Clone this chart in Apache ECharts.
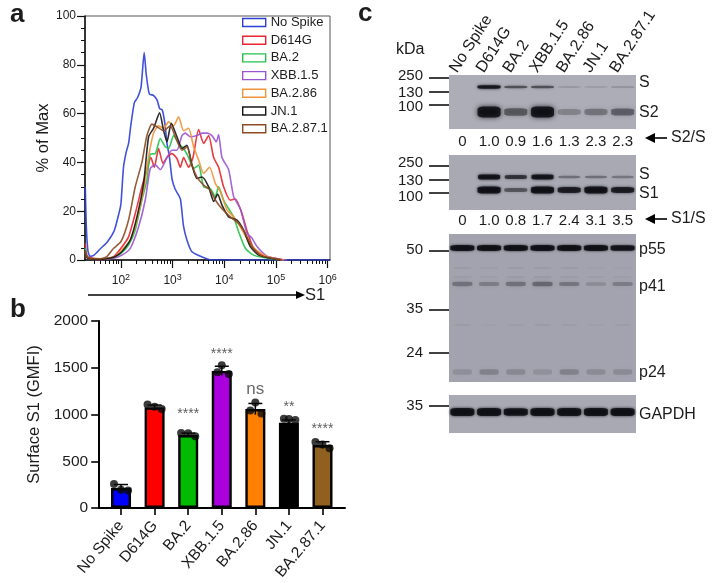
<!DOCTYPE html>
<html><head><meta charset="utf-8">
<style>html,body{margin:0;padding:0;background:#fff}#c{width:719px;height:583px}</style>
<script src="https://cdn.jsdelivr.net/npm/echarts@6/dist/echarts.min.js"></script>
</head><body><div id="c"></div>
<script>
// ---------- panel a: flow histograms, [log10 S1, % of max]
const variants = ['No Spike','D614G','BA.2','XBB.1.5','BA.2.86','JN.1','BA.2.87.1'];
const histNoSpike = [[1.31,30],[1.33,14],[1.36,4],[1.40,1.5],[1.48,2],[1.61,4.8],[1.74,7.5],[1.87,12],[1.96,19],[2.0,23],[2.05,38],[2.10,44],[2.15,48],[2.19,55],[2.26,64.5],[2.32,66.5],[2.39,71],[2.45,85],[2.49,76],[2.55,68],[2.63,67.5],[2.70,65.5],[2.75,62],[2.80,61.5],[2.85,56],[2.89,48],[2.94,42],[2.99,33],[3.05,29],[3.15,25],[3.21,14],[3.28,8],[3.37,3.5],[3.55,1.4],[3.75,0],[6.04,0]];
const histD614G = [[1.31,6.8],[1.355,1.4],[1.6,0.3],[1.858,1.4],[2.0,4.8],[2.148,9.5],[2.277,19],[2.406,30],[2.503,37],[2.58,42],[2.645,38],[2.729,45.7],[2.813,39.6],[2.89,42],[2.987,43.6],[3.084,41.6],[3.148,38],[3.213,42],[3.31,38],[3.394,42],[3.503,53.5],[3.6,47.8],[3.697,51],[3.794,42],[3.89,38],[3.987,30],[4.116,24.5],[4.213,25],[4.342,19],[4.439,12],[4.568,4.8],[4.761,1.6],[4.987,0.7],[5.148,0]];
const histBA2 = [[1.31,5],[1.355,1],[1.6,0.3],[1.858,1.1],[2.0,2.7],[2.148,6.1],[2.277,12.3],[2.406,24.6],[2.503,32.7],[2.568,43.4],[2.665,43.6],[2.761,49.8],[2.858,46.4],[2.923,45.7],[3.019,51],[3.116,47.8],[3.213,45.7],[3.31,42],[3.406,37.5],[3.503,38.9],[3.6,30],[3.729,29.3],[3.826,26],[3.89,30],[3.987,24.5],[4.084,21],[4.181,17.7],[4.277,11.6],[4.406,4.8],[4.568,2],[4.761,1],[5.019,0]];
const histXBB = [[1.31,3],[1.355,0.8],[1.6,0.2],[1.858,0.7],[2.019,2],[2.181,4.8],[2.342,13.6],[2.471,24.6],[2.568,37.5],[2.665,39],[2.761,37],[2.89,42],[2.987,45],[3.084,45],[3.181,51],[3.245,52],[3.342,50.5],[3.471,51],[3.568,52],[3.665,52],[3.761,51],[3.845,48.4],[3.89,51.4],[3.955,42],[4.084,37],[4.181,26],[4.31,21],[4.439,11],[4.535,9],[4.632,5.5],[4.826,1.6],[5.084,0.3],[5.213,0]];
const histBA286 = [[1.31,3],[1.355,0.8],[1.6,0.2],[1.858,1.1],[2.019,4.1],[2.181,8.2],[2.31,16.4],[2.439,28.6],[2.535,42.3],[2.632,52],[2.729,55],[2.826,54],[2.923,56.6],[3.019,55],[3.116,58.7],[3.213,53],[3.31,54],[3.406,46.4],[3.503,41],[3.6,35.5],[3.716,38],[3.826,31.4],[3.923,28],[4.052,20.5],[4.181,17.7],[4.31,13.6],[4.471,7.5],[4.632,3.8],[4.826,1.4],[5.019,0.3],[5.148,0]];
const histJN1 = [[1.31,3],[1.355,0.8],[1.6,0.2],[1.858,1.1],[2.019,3.4],[2.181,8.2],[2.31,17.7],[2.439,31.4],[2.535,50.5],[2.632,54],[2.748,60.3],[2.826,53],[2.89,48.4],[2.974,56],[3.084,50.5],[3.181,45.7],[3.277,47],[3.374,39],[3.471,33.4],[3.568,34],[3.697,30],[3.794,24],[3.871,27],[3.955,22.5],[4.084,17.7],[4.245,16.4],[4.374,12.3],[4.503,5.5],[4.665,2],[4.89,0.7],[5.084,0]];
const histBA2871 = [[1.31,4],[1.355,1],[1.6,0.5],[1.729,1.4],[1.858,4.8],[2.0,7.5],[2.148,16.4],[2.277,30],[2.406,40],[2.503,51],[2.6,55.7],[2.697,54.6],[2.826,53],[2.955,55],[3.052,50.5],[3.181,45],[3.277,46.4],[3.374,39],[3.471,34],[3.6,30.7],[3.729,28.6],[3.826,24.6],[3.955,21],[4.116,17.7],[4.277,15],[4.406,10.9],[4.535,5.5],[4.697,2],[4.923,0.7],[5.116,0]];
const histSeries = [histNoSpike,histD614G,histBA2,histXBB,histBA286,histJN1,histBA2871];
const histColors = ['#2b3fd6','#e8252e','#24c24a','#9b55d2','#f0943a','#161616','#8c4a22'];
const histExponents = [2,3,4,5,6];
const histMinorTicks = [1.477,1.602,1.699,1.778,1.845,1.903,1.954,2.301,2.477,2.602,2.699,2.778,2.845,2.903,2.954,3.301,3.477,3.602,3.699,3.778,3.845,3.903,3.954,4.301,4.477,4.602,4.699,4.778,4.845,4.903,4.954,5.301,5.477,5.602,5.699,5.778,5.845,5.903,5.954];

// ---------- panel b: surface S1 bars
const gmfiMean = [213,1076,781,1466,1058,912,674];
const gmfiSD = [38,25,20,50,60,30,35];
const gmfiPoints = [[256,195,188],[1108,1083,1058],[802,799,767],[1452,1527,1434],[1044,1129,1012],[955,952,941],[706,678,639]];
const gmfiJitter = [-0.21,0,0.21];
const gmfiJitterPeak = {3:[-0.13,0,0.21],4:[-0.15,0,0.18],5:[-0.15,0,0.19]};
const barColors = ['#0000ff','#ff0000','#00bb00','#aa00dd','#ff8000','#000000','#8f6020'];
const sigText = ['','','****','****','ns','**','****'];
const sigLevel = [null,null,1000,1650,1270,1075,840];

// ---------- panel c: blots; band intensity per lane (0..1)
const ratioS2 = ['0','1.0','0.9','1.6','1.3','2.3','2.3'];
const ratioS1 = ['0','1.0','0.8','1.7','2.4','3.1','3.5'];
const blot1S  = [0,0.95,0.55,0.55,0.17,0.14,0.2];
const blot1S2 = [0,1,0.5,1,0.26,0.34,0.46];
const blot2S  = [0,1,0.7,0.95,0.36,0.36,0.32];
const blot2S1 = [0,1,0.5,1,0.85,1,0.85];
const blot3p55 = [0.95,0.95,0.95,0.95,0.95,0.95,0.9];
const blot3p41 = [0.32,0.26,0.32,0.38,0.3,0.16,0.26];
const blot3p24 = [0.14,0.22,0.18,0.12,0.22,0.16,0.16];
const blot3f1  = [0.05,0.04,0.05,0.05,0.05,0.02,0.02];
const blot3f2  = [0.05,0.04,0.06,0.06,0.05,0.04,0.04];
const blot3f3  = [0.05,0.02,0.04,0.05,0.04,0.02,0.04];
const gapdh   = [1,1,0.95,1,1,1,1];

const axisFont = 'Liberation Sans';
const C = '#1c1c1c';
const chart = echarts.init(document.getElementById('c'), null, {renderer:'canvas'});

function band(series, xIdx, yIdx, pos, widthPx, baseH, extraH, blur){
  return {type:'scatter', xAxisIndex:xIdx, yAxisIndex:yIdx, silent:true, z:3,
    data: series.map((v,i)=>({value:[i,pos], symbol:'roundRect',
      symbolSize:[widthPx, Math.max(0.1, baseH+extraH*v)],
      itemStyle:{color:'rgba(8,8,14,'+Math.min(1,v*1.1)+')', shadowBlur:blur, shadowColor:'rgba(8,8,14,'+Math.min(1,v)+')'}}))
      .filter(d=>series[d.value[0]]>0)};
}

const blotGrids = [
  {left:449,top:75,width:187,height:54},
  {left:449,top:155,width:187,height:55},
  {left:449,top:234,width:187,height:148},
  {left:449,top:395,width:187,height:38}
];
const blotBg = ['#adadb7','#a9a9b4','#a3a3af','#a9a9b3'];

function blotX(g, data, show){
  return {gridIndex:g, type:'category', data:data, position:'bottom',
    axisLine:{show:false}, axisTick:{show:false}, splitLine:{show:false},
    axisLabel:{show:show, interval:0, margin:g===3?3:5, fontFamily:axisFont, fontSize:15, color:C}};
}
function blotY(g, max, tickAt, labelAt, labels){
  return {gridIndex:g, type:'value', min:0, max:max, inverse:true, position:'left',
    splitLine:{show:false}, axisLine:{show:false},
    axisTick:{show:true, customValues:tickAt, length:20, inside:false, lineStyle:{color:'#111',width:1.6}},
    axisLabel:{show:true, customValues:labelAt, margin:26, hideOverlap:false, showMinLabel:true,
      fontFamily:axisFont, fontSize:15, color:C, formatter:(v,i)=>labels[labelAt.indexOf(v)]||''}};
}
function blotYR(g, max, labelAt, labels){
  return {gridIndex:g, type:'value', min:0, max:max, inverse:true, position:'right',
    splitLine:{show:false}, axisLine:{show:false}, axisTick:{show:false},
    axisLabel:{show:true, customValues:labelAt, margin:3, showMinLabel:true, showMaxLabel:true, fontFamily:axisFont, fontSize:16, color:C,
      formatter:(v,i)=>labels[labelAt.indexOf(v)]}};
}

const xAxes = [
  {gridIndex:0, type:'value', min:1.305, max:6.045, position:'bottom',
   axisLine:{onZero:false, lineStyle:{color:'#111',width:1.5}},
   splitLine:{show:false}, minorTick:{show:false},
   axisTick:{customValues:histExponents, length:8, lineStyle:{color:'#111',width:1.2}},
   axisLabel:{customValues:histExponents, margin:13, color:C, fontFamily:axisFont,
     formatter:v=>'{b|10}{s|'+v+'}', rich:{b:{fontSize:12,fontFamily:axisFont,color:C},s:{fontSize:9,fontFamily:axisFont,color:C,padding:[0,0,7,0]}}}},
  {gridIndex:0, type:'value', min:1.305, max:6.045, position:'bottom',
   axisLine:{show:false}, splitLine:{show:false}, axisLabel:{show:false},
   axisTick:{customValues:histMinorTicks, length:4, lineStyle:{color:'#111',width:1}}},
  {gridIndex:1, type:'value', min:-0.65, max:6.67, position:'bottom',
   axisLine:{onZero:false, lineStyle:{color:'#000',width:2}}, splitLine:{show:false},
   axisTick:{customValues:[0,1,2,3,4,5,6], length:7, lineStyle:{color:'#000',width:1.6}},
   axisLabel:{customValues:[0,1,2,3,4,5,6], rotate:50, margin:15, fontFamily:axisFont, fontSize:15.5, color:C,
     formatter:v=>variants[v]}},
  blotX(2, ratioS2, true),
  blotX(3, ratioS1, true),
  blotX(4, variants, false),
  blotX(5, variants, false),
  // lane names over the first blot: own transparent grid, nudged left of the lanes
  {gridIndex:6, type:'category', data:variants, position:'top',
    axisLine:{show:false}, axisTick:{show:false}, splitLine:{show:false},
    axisLabel:{show:true, interval:0, rotate:57, margin:4, hideOverlap:false, fontFamily:axisFont, fontSize:16, color:C}}
];
const yAxes = [
  {gridIndex:0, type:'value', min:0, max:100, interval:20, position:'left',
   splitLine:{show:false},
   axisLine:{show:true, onZero:false, lineStyle:{color:'#111',width:1.5}},
   axisTick:{show:true, length:8, lineStyle:{color:'#111',width:1.2}},
   minorTick:{show:true, splitNumber:4, length:4, lineStyle:{color:'#111',width:1}},
   axisLabel:{fontFamily:axisFont, fontSize:12, color:C, margin:9},
   name:'% of Max', nameLocation:'middle', nameGap:33, nameTextStyle:{fontFamily:axisFont, fontSize:16.5, color:C}},
  {gridIndex:1, type:'value', min:0, max:2000, interval:500, position:'left',
   splitLine:{show:false},
   axisLine:{show:true, onZero:false, lineStyle:{color:'#000',width:2}},
   axisTick:{show:true, length:8, lineStyle:{color:'#000',width:1.6}},
   axisLabel:{fontFamily:axisFont, fontSize:15.5, color:C, margin:11, formatter:v=>String(v)},
   name:'Surface S1 (GMFI)', nameLocation:'middle', nameGap:56, nameTextStyle:{fontFamily:axisFont, fontSize:16.5, color:C}},
  blotY(2,54,[3,17,30],[1,18,32,54],['250','130','100']),
  blotYR(2,54,[8,38],['S','S2']),
  blotY(3,55,[11,25,38],[8,26,42,55],['250','130','100']),
  blotYR(3,55,[20,39],['S','S1']),
  blotY(4,148,[17,76,119],[16,75,119,148],['50','35','24']),
  blotYR(4,148,[16,53,139],['p55','p41','p24']),
  blotY(5,38,[11],[11,38],['35']),
  blotYR(5,38,[20],['GAPDH']),
  {gridIndex:6, type:'value', show:false, min:0, max:1}
];

const series = [];
// panel a
histSeries.forEach((h,i)=>series.push({type:'line', name:variants[i], xAxisIndex:0, yAxisIndex:0, data:h,
  showSymbol:false, smooth:0.2, clip:true, itemStyle:{color:histColors[i]}, lineStyle:{color:histColors[i],width:1.6,opacity:0.9}, z:2+i}));
// panel b
series.push({type:'bar', xAxisIndex:2, yAxisIndex:1, barWidth:20, silent:true, z:3,
  data:gmfiMean.map((v,i)=>({value:[i,v], itemStyle:{color:barColors[i], borderColor:'#000', borderWidth:2.4}}))});
series.push({type:'custom', xAxisIndex:2, yAxisIndex:1, silent:true, z:4,
  data:gmfiMean.map((v,i)=>[i,v-gmfiSD[i],v+gmfiSD[i]]),
  renderItem:(p,api)=>{
    const a=api.coord([api.value(0),api.value(1)]), b=api.coord([api.value(0),api.value(2)]);
    const st={stroke:'#000',lineWidth:1.5,fill:null};
    return {type:'group',children:[
      {type:'line',shape:{x1:a[0],y1:a[1],x2:b[0],y2:b[1]},style:st},
      {type:'line',shape:{x1:a[0]-7,y1:b[1],x2:a[0]+7,y2:b[1]},style:st}]};
  }});
series.push({type:'scatter', xAxisIndex:2, yAxisIndex:1, symbolSize:8, silent:true, z:5,
  itemStyle:{color:'#0a0a0a'},
  data:gmfiPoints.flatMap((pts,i)=>pts.map((v,k)=>[i+(gmfiJitterPeak[i]||gmfiJitter)[k],v]))});
sigText.forEach((t,i)=>{ if(!t) return;
  series.push({type:'scatter', xAxisIndex:2, yAxisIndex:1, symbolSize:1, silent:true, z:5,
    itemStyle:{color:'transparent'},
    label:{show:true, position:'inside', formatter:t, fontFamily:axisFont,
      color:t==='ns'?'#444':'#333', fontSize:t==='ns'?17:14},
    data:[[i,sigLevel[i]]]});
});
// panel c
series.push(band(blot1S,3,2,12,23,1,2.5,3));
series.push(band(blot1S2,3,2,37,23,4,7,5));
series.push(band(blot2S,4,4,22,22,1,4,3));
series.push(band(blot2S1,4,4,35,23,1,6,3));
series.push(band(blot3p55,5,6,14,24,2,4,2.5));
series.push(band(blot3p41,5,6,50,20,3,4,5));
series.push(band(blot3p24,5,6,138,19,5,3,6));
series.push(band(blot3f1,5,6,34,18,2,2,3));
series.push(band(blot3f2,5,6,43,18,2,2,3));
series.push(band(blot3f3,5,6,91,16,2,2,3));
series.push(band(gapdh,6,8,17,24,2,6,3));

function arrow(x1,x2,y,w,hw,hl){
  return [{type:'line',shape:{x1:x1,y1:y,x2:x2-(x2>x1?hl:-hl),y2:y},style:{stroke:'#000',lineWidth:w}},
    {type:'polygon',shape:{points:[[x2,y],[x2-(x2>x1?hl:-hl),y-hw],[x2-(x2>x1?hl:-hl),y+hw]]},style:{fill:'#000'}}];
}
function text(x,y,t,size,weight){
  return {type:'text',x:x,y:y,style:{text:t,fontFamily:axisFont,fontSize:size,fontWeight:weight||'normal',fill:C,textVerticalAlign:'middle',textAlign:'left'}};
}

chart.setOption({
  animation:false, backgroundColor:'#fff',
  grid:[
    {left:85,top:16,width:245,height:244,show:true,borderColor:'#555',borderWidth:1,backgroundColor:'transparent'},
    {left:99.2,top:321,width:245.8,height:187}
  ].concat(blotGrids.map((g,i)=>Object.assign({show:true,borderWidth:0,backgroundColor:blotBg[i]},g)))
   .concat([{left:440,top:75,width:187,height:54}]),
  xAxis:xAxes, yAxis:yAxes, series:series,
  legend:{data:variants.map((n,i)=>({name:n, icon:'rect', itemStyle:{color:'transparent',borderColor:histColors[i],borderWidth:1.4}})),
    orient:'vertical', left:242, top:14, padding:0, itemWidth:23, itemHeight:8, itemGap:0.7,
    textStyle:{fontFamily:axisFont,fontSize:13,color:C,lineHeight:10,padding:[7,0,0,0]}, selectedMode:false},
  graphic:[
    ...arrow(88,305,295,1.5,4,9),
    text(305,295,'S1',16.5),
    text(10,15,'a',26,'bold'),
    text(10,310,'b',26,'bold'),
    text(358,14,'c',26,'bold'),
    text(396,50,'kDa',16),
    ...arrow(667,645,138,1.6,5,10),
    text(671,138,'S2/S',16),
    ...arrow(667,645,219,1.6,5,10),
    text(671,219,'S1/S',16)
  ]
});
</script></body></html>
